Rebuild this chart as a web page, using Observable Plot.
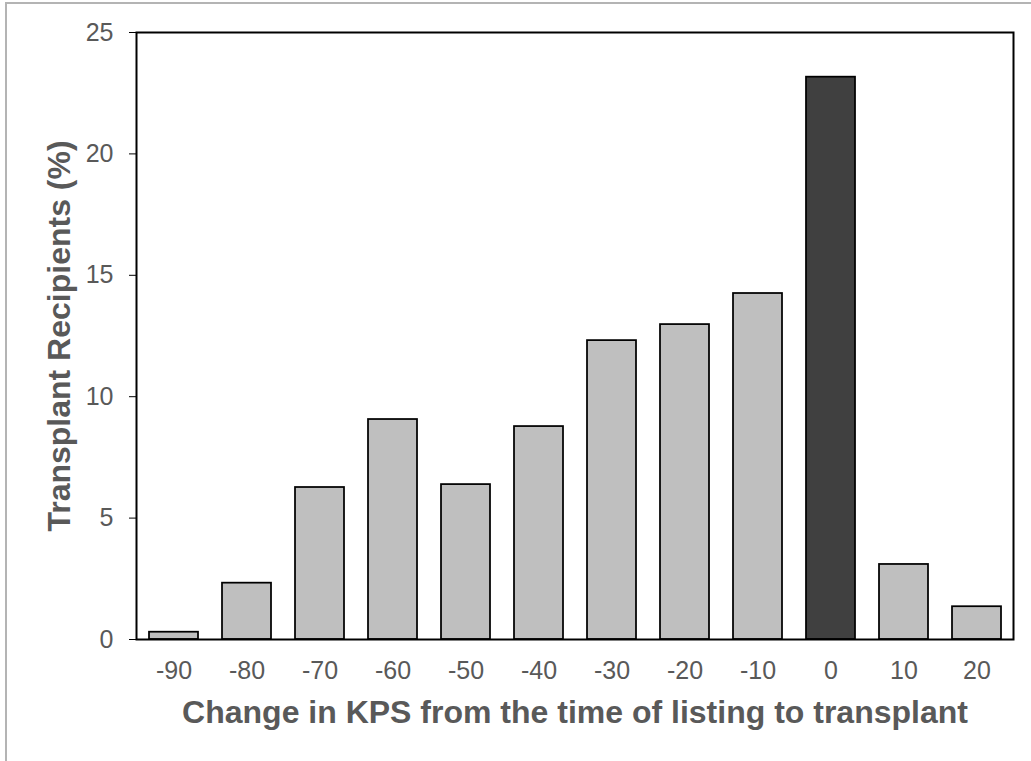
<!DOCTYPE html>
<html>
<head>
<meta charset="utf-8">
<script src="https://cdn.jsdelivr.net/npm/d3@7"></script>
<script src="https://cdn.jsdelivr.net/npm/@observablehq/plot@0.6"></script>
<style>
  html, body { margin: 0; padding: 0; background: #fff; }
  body { width: 1031px; height: 761px; overflow: hidden; position: relative; }
  #border { position: absolute; left: 5px; top: 2px; width: 1100px; height: 800px;
    border-left: 2px solid #b4b4b4; border-top: 2px solid #b4b4b4; pointer-events: none; }
  #chart { position: absolute; left: 0; top: 0; }
</style>
</head>
<body>
<div id="chart"></div>
<div id="border"></div>
<script>
const categories = ["-90", "-80", "-70", "-60", "-50", "-40", "-30", "-20", "-10", "0", "10", "20"];
const values = [0.3, 2.32, 6.26, 9.06, 6.38, 8.77, 12.31, 12.97, 14.25, 23.16, 3.09, 1.35];
const yTicks = [0, 5, 10, 15, 20, 25];
const highlight = "0";
const xTitle = "Change in KPS from the time of listing to transplant";
const yTitle = "Transplant Recipients (%)";

const data = categories.map((c, i) => ({cat: c, value: values[i]}));

const chart = Plot.plot({
  width: 1031,
  height: 761,
  marginLeft: 136,
  marginRight: 18,
  marginTop: 32,
  marginBottom: 122,
  style: {fontFamily: "'Liberation Sans', Arial, sans-serif", fontSize: "25px", color: "#595959", background: "#fff"},
  x: {domain: categories, paddingInner: 0.33, paddingOuter: 0.165, label: null},
  y: {domain: [0, 25], label: null},
  marks: [
    Plot.barY(data, {
      x: "cat", y: "value",
      fill: d => d.cat === highlight ? "#404040" : "#bfbfbf",
      stroke: "black", strokeWidth: 1.75
    }),
    Plot.frame({stroke: "black", strokeWidth: 2}),
    Plot.axisY({ticks: yTicks, tickSize: 7, tickPadding: 16, stroke: "black", fill: "#595959", label: null, fontSize: 25}),
    Plot.axisX({tickSize: 0, tickPadding: 22, fill: "#595959", label: null, fontSize: 25}),
    Plot.text([xTitle], {frameAnchor: "bottom", dy: 83, lineAnchor: "bottom", fontSize: 32, fontWeight: "bold", fill: "#595959"}),
    Plot.text([yTitle], {frameAnchor: "left", dx: -67, rotate: -90, textAnchor: "middle", lineAnchor: "bottom", fontSize: 32, fontWeight: "bold", fill: "#595959"})
  ]
});
document.getElementById("chart").appendChild(chart);
</script>
</body>
</html>
